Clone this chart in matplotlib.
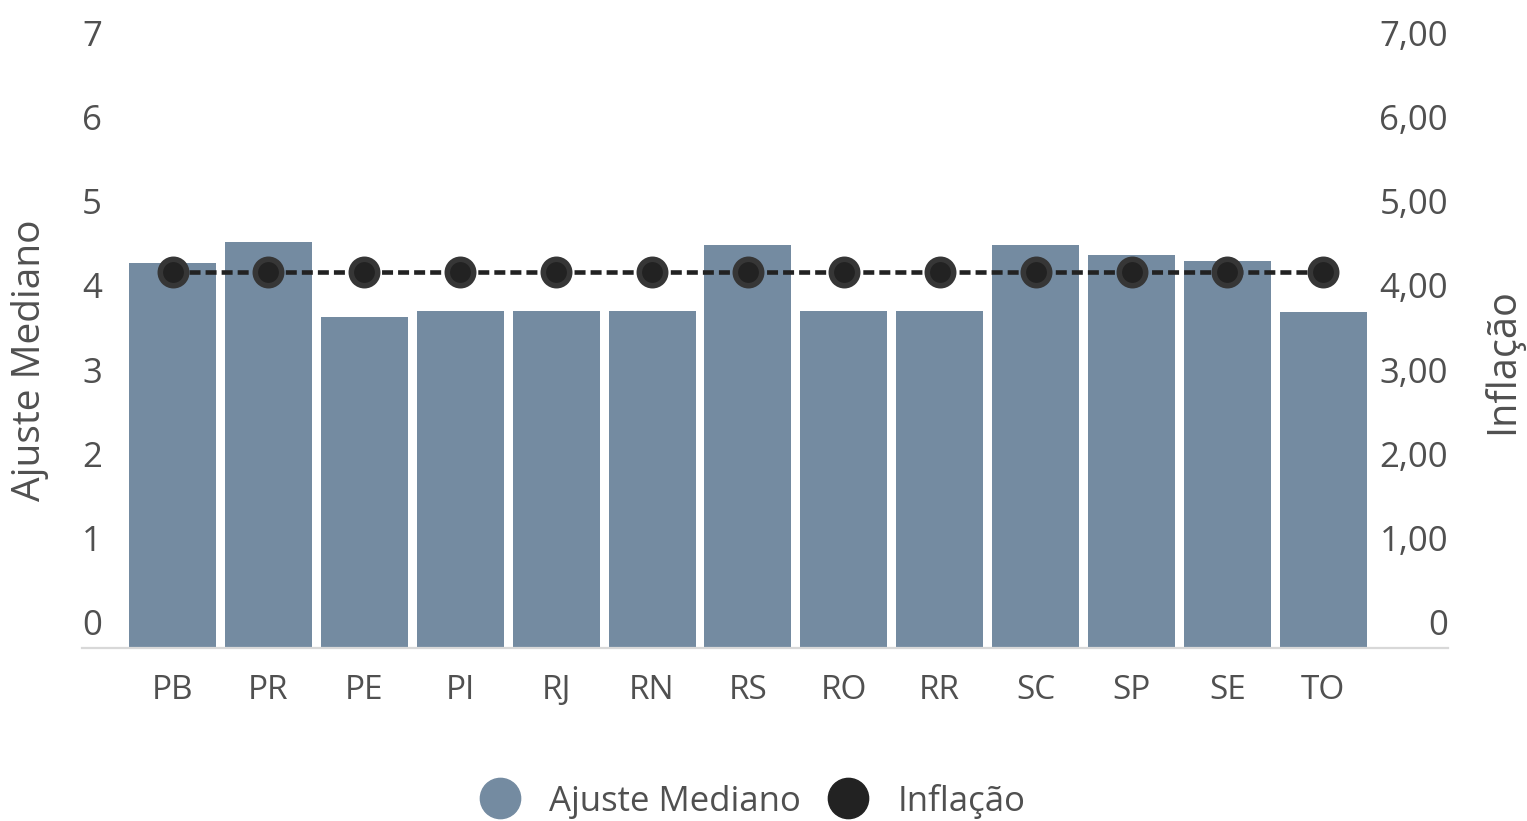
import matplotlib
matplotlib.use("Agg")
import matplotlib.pyplot as plt
from matplotlib.lines import Line2D
from matplotlib.transforms import ScaledTranslation

# ---- data ----
categories = ["PB", "PR", "PE", "PI", "RJ", "RN", "RS", "RO", "RR", "SC", "SP", "SE", "TO"]
ajuste_mediano = [4.58, 4.83, 3.93, 4.00, 4.00, 4.00, 4.79, 4.00, 4.00, 4.79, 4.67, 4.60, 3.99]
inflacao = [4.47] * 13
left_ticks = [0, 1, 2, 3, 4, 5, 6, 7]
left_labels = ["0", "1", "2", "3", "4", "5", "6", "7"]
right_labels = ["0", "1,00", "2,00", "3,00", "4,00", "5,00", "6,00", "7,00"]

FONT = "Open Sans"
TXT = "#505050"
BAR = "#748ba1"

plt.rcParams["font.family"] = [FONT, "DejaVu Sans"]

W, H = 1527, 821
fig = plt.figure(figsize=(W / 100, H / 100), dpi=100)
ax = fig.add_axes([82 / W, 1 - 648 / H, (1448 - 82) / W, (648 - 59) / H])
ax2 = ax.twinx()

x = list(range(len(categories)))
ax.bar(x, ajuste_mediano, width=0.907, color=BAR, zorder=2)
ax2.plot(x, inflacao, color="#222222", lw=3.3, dashes=(2.4, 1.1), dash_capstyle="butt",
         marker="o", markersize=19, markerfacecolor="#222222", markeredgecolor="#363636",
         markeredgewidth=4, zorder=3)

for a in (ax, ax2):
    a.set_ylim(0, 7)
    a.set_xlim(-0.944, 13.30)
    for s in a.spines.values():
        s.set_visible(False)
    a.patch.set_visible(False)

ax.spines["bottom"].set_visible(True)
ax.spines["bottom"].set_color("#d8d8d8")
ax.spines["bottom"].set_linewidth(1.6)

ax.set_xticks(x)
ax.set_xticklabels(categories)
ax.tick_params(axis="x", length=0, pad=19, labelsize=24, labelcolor=TXT)

ax.set_yticks(left_ticks)
ax.set_yticklabels(left_labels)
ax.tick_params(axis="y", length=0, pad=0, labelsize=25, labelcolor=TXT)
for lab in ax.get_yticklabels():
    lab.set_horizontalalignment("left")

ax2.set_yticks(left_ticks)
ax2.set_yticklabels(right_labels)
ax2.tick_params(axis="y", length=0, pad=0, labelsize=25, labelcolor=TXT)
for lab in ax2.get_yticklabels():
    lab.set_horizontalalignment("right")

off = ScaledTranslation(0, 26 / 100, fig.dpi_scale_trans)
for lab in ax.get_yticklabels() + ax2.get_yticklabels():
    lab.set_transform(lab.get_transform() + off)

fig.text(30 / W, 1 - 360 / H, "Ajuste Mediano", rotation=90, ha="center", va="center",
         fontsize=28, color=TXT)
fig.text(1503 / W, 1 - 361 / H, "Inflação", rotation=90, ha="center", va="center",
         fontsize=28.5, color=TXT)

handles = [
    Line2D([], [], ls="none", marker="o", markersize=29, markerfacecolor=BAR, markeredgecolor=BAR),
    Line2D([], [], ls="none", marker="o", markersize=29, markerfacecolor="#222222", markeredgecolor="#222222"),
]
fig.legend(handles, ["Ajuste Mediano", "Inflação"], loc="center", ncol=2,
           bbox_to_anchor=(752 / W, 1 - 801 / H), frameon=False, fontsize=25,
           labelcolor=TXT, handlelength=1.2, handletextpad=0.81, columnspacing=0.78,
           borderpad=0, borderaxespad=0)

fig.savefig("out.png", dpi=100)
